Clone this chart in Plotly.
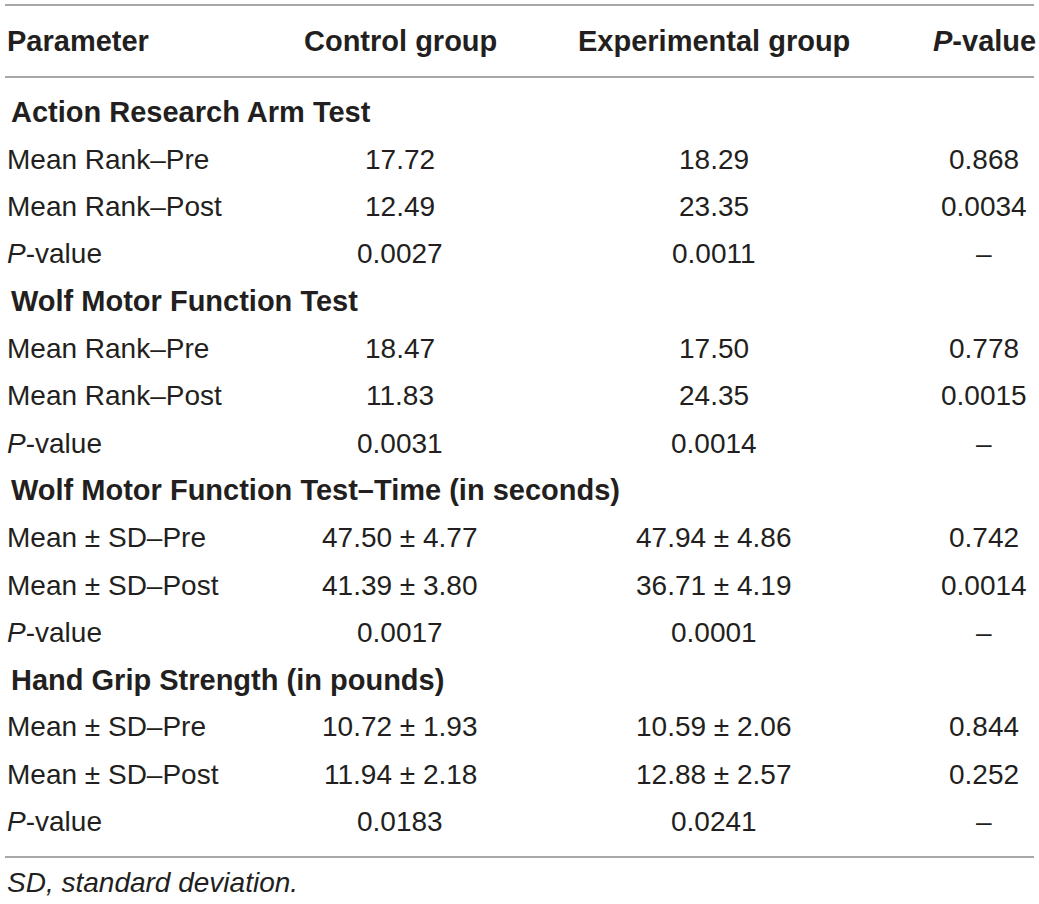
import plotly.graph_objects as go

W, H = 1039, 904

headers = ["Parameter", "Control group", "Experimental group", "<i>P</i>-value"]

sections = [
    "Action Research Arm Test",
    "Wolf Motor Function Test",
    "Wolf Motor Function Test–Time (in seconds)",
    "Hand Grip Strength (in pounds)",
]

row_labels = [
    ["Mean Rank–Pre", "Mean Rank–Post", "<i>P</i>-value"],
    ["Mean Rank–Pre", "Mean Rank–Post", "<i>P</i>-value"],
    ["Mean ± SD–Pre", "Mean ± SD–Post", "<i>P</i>-value"],
    ["Mean ± SD–Pre", "Mean ± SD–Post", "<i>P</i>-value"],
]

control_vals = [
    ["17.72", "12.49", "0.0027"],
    ["18.47", "11.83", "0.0031"],
    ["47.50 ± 4.77", "41.39 ± 3.80", "0.0017"],
    ["10.72 ± 1.93", "11.94 ± 2.18", "0.0183"],
]

experimental_vals = [
    ["18.29", "23.35", "0.0011"],
    ["17.50", "24.35", "0.0014"],
    ["47.94 ± 4.86", "36.71 ± 4.19", "0.0001"],
    ["10.59 ± 2.06", "12.88 ± 2.57", "0.0241"],
]

p_vals = [
    ["0.868", "0.0034", "–"],
    ["0.778", "0.0015", "–"],
    ["0.742", "0.0014", "–"],
    ["0.844", "0.252", "–"],
]

footnote = "<i>SD, standard deviation.</i>"

# layout (pixel coordinates of the reference)
FONT = "Liberation Sans, Arial, Helvetica, sans-serif"
TXT = "#231f20"
LINE = "#a8a8a8"
FS = 28
FSB = 29
col_x = [5, 400, 714, 984]
header_y = 41
first_y = 112
step = 47.3
line_ys = [5, 77, 857]
foot_y = 882

fig = go.Figure()
ann = []

def add(x, y, text, anchor="center", bold=False):
    ann.append(dict(
        x=x, y=y, xref="x", yref="y", text=f"<b>{text}</b>" if bold else text,
        showarrow=False, xanchor=anchor, yanchor="middle",
        font=dict(family=FONT, size=FSB if bold else FS, color=TXT),
    ))

for i, h in enumerate(headers):
    if i == 0:
        add(col_x[0], header_y, h, "left", bold=True)
    else:
        add(col_x[i], header_y, h, "center", bold=True)

y = first_y
for s, sec in enumerate(sections):
    add(9, y, sec, "left", bold=True)
    y += step
    for r in range(3):
        add(col_x[0], y, row_labels[s][r], "left")
        add(col_x[1], y, control_vals[s][r], "center")
        add(col_x[2], y, experimental_vals[s][r], "center")
        add(col_x[3], y, p_vals[s][r], "center")
        y += step

add(5, foot_y, footnote, "left")

shapes = [
    dict(type="line", xref="x", yref="y", x0=5, x1=1034, y0=ly, y1=ly,
         line=dict(color=LINE, width=1.8))
    for ly in line_ys
]

fig.update_layout(
    width=W, height=H,
    margin=dict(l=0, r=0, t=0, b=0),
    paper_bgcolor="white", plot_bgcolor="white",
    xaxis=dict(range=[0, W], visible=False, fixedrange=True),
    yaxis=dict(range=[H, 0], visible=False, fixedrange=True),
    annotations=ann, shapes=shapes, showlegend=False,
)

fig.write_html(
    "out.html",
    config={"displayModeBar": False},
    post_script="document.body.style.margin='0';document.body.style.overflow='hidden';",
)
